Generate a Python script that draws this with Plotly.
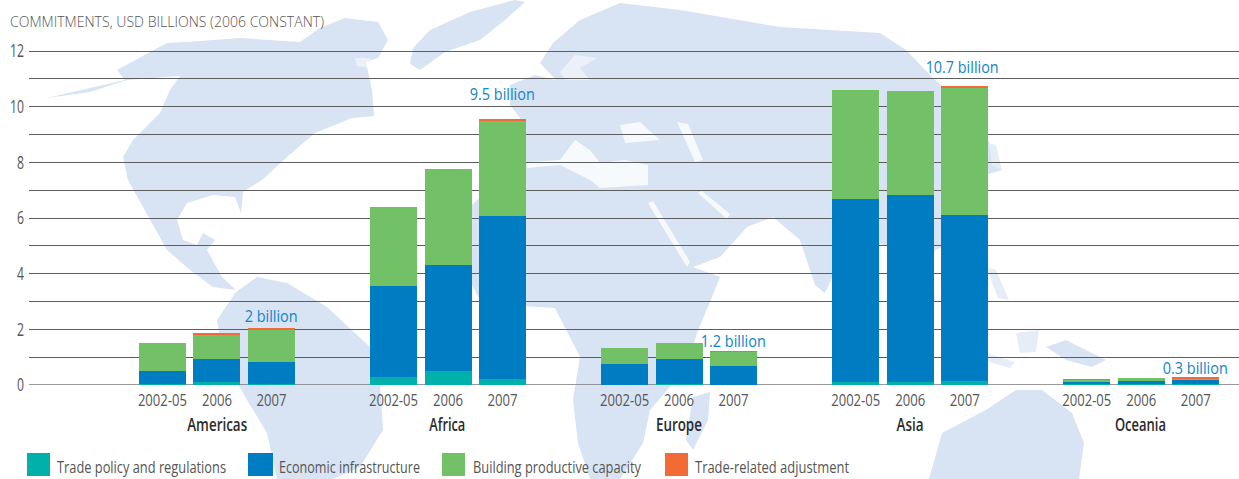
import json
import plotly.graph_objects as go

# ---------- data (segment heights, USD billions) ----------
regions = ["Americas", "Africa", "Europe", "Asia", "Oceania"]
periods = ["2002-05", "2006", "2007"]
trade_policy = [0.04, 0.11, 0.04, 0.29, 0.50, 0.22, 0.01, 0.02, 0.01, 0.11, 0.11, 0.14, 0.02, 0.02, 0.03]
economic_infra = [0.46, 0.82, 0.79, 3.27, 3.81, 5.85, 0.74, 0.91, 0.67, 6.57, 6.72, 5.97, 0.09, 0.12, 0.15]
productive_cap = [1.01, 0.90, 1.15, 2.84, 3.45, 3.42, 0.58, 0.58, 0.51, 3.92, 3.73, 4.59, 0.07, 0.11, 0.06]
trade_adjust = [0.00, 0.04, 0.06, 0.00, 0.00, 0.07, 0.00, 0.00, 0.01, 0.00, 0.00, 0.05, 0.03, 0.00, 0.04]
total_labels = ["2 billion", "9.5 billion", "1.2 billion", "10.7 billion", "0.3 billion"]
total_label_values = [2.04, 9.56, 1.2, 10.75, 0.28]
series_names = ["Trade policy and regulations", "Economic infrastructure",
                "Building productive capacity", "Trade-related adjustment"]
y_tick_labels = ["0", "", "2", "", "4", "", "6", "", "8", "", "10", "", "12"]
chart_title = "COMMITMENTS, USD BILLIONS (2006 CONSTANT)"

# ---------- style ----------
W, H = 1239, 479
L, R, T, B = 29, 1239, 47, 385
PX_PER_UNIT = 334 / 12
colors = ["#00b0aa", "#007cc3", "#73c167", "#f26a35"]
LAND = "#d8e3f3"
LAND2 = "#e6edf7"
FONT = "Open Sans, Noto Sans, sans-serif"

# the source uses a condensed face: real text, squeezed to the measured width
text_widths = {
    chart_title: 314,
    "Trade policy and regulations": 169, "Economic infrastructure": 141,
    "Building productive capacity": 168, "Trade-related adjustment": 154,
    "Americas": 60, "Africa": 36, "Europe": 46, "Asia": 27, "Oceania": 51,
    "2 billion": 53, "9.5 billion": 65, "1.2 billion": 65, "10.7 billion": 73, "0.3 billion": 65,
    "2002-05": 49, "2006": 30, "2007": 30,
    "0": 7, "2": 7, "4": 7, "6": 7, "8": 7, "10": 14, "12": 14,
}

# axis unit = one bar slot
UNIT = 54.5
GROUP_STEP = 231.1 / UNIT
FIRST_PX = 162.4
xr = [(L - FIRST_PX) / UNIT, (R - FIRST_PX) / UNIT]
x_pos = [i * GROUP_STEP + j for i in range(len(regions)) for j in range(len(periods))]


def px(x, y):
    return (x - L) / (R - L), (B - y) / (B - T)


def poly(points, color, opacity=1.0):
    parts = []
    for k, (a, b) in enumerate(points):
        u, v = px(a, b)
        parts.append(("M" if k == 0 else "L") + f"{u:.5f},{v:.5f}")
    return dict(type="path", xref="paper", yref="paper", path=" ".join(parts) + " Z",
                fillcolor=color, opacity=opacity, line=dict(width=0), layer="below")


# decorative world map silhouette (screen pixels)
north_america = [(47,98),(90,88),(125,80),(117,70),(130,63),(150,52),(167,43),(187,42),(240,38),(300,42),
    (320,28),(345,18),(378,22),(388,40),(378,58),(366,62),(372,90),(374,116),(352,118),(315,133),(287,157),
    (262,180),(243,192),(241,213),(235,197),(213,195),(187,203),(177,220),(183,240),(197,245),(203,233),
    (215,240),(207,250),(222,277),(236,290),(213,287),(190,270),(167,250),(143,207),(128,180),(123,157),
    (133,140),(160,113),(170,90),(180,76),(127,80),(90,92)]
greenland = [(410,64),(413,48),(430,30),(470,12),(515,0),(525,2),(505,20),(480,40),(445,52),(420,70)]
south_america = [(236,292),(257,277),(287,283),(327,307),(370,347),(380,383),(383,430),(360,467),(333,479),
    (277,479),(267,433),(247,400),(223,357),(217,320)]
afro_eurasia = [(553,43),(580,20),(620,3),(680,10),(780,27),(880,33),(906,50),(932,77),(970,110),(988,140),
    (1002,170),(985,175),(975,215),(960,240),(935,250),(930,265),(935,300),(925,300),(905,260),(885,245),
    (860,240),(845,250),(825,293),(815,285),(800,240),(773,217),(747,227),(720,257),(693,267),(720,277),
    (712,297),(697,333),(687,367),(650,410),(643,443),(620,479),(590,479),(578,443),(573,400),(580,357),
    (555,308),(505,305),(480,300),(468,277),(455,245),(462,215),(480,197),(500,175),(527,165),(510,150),(520,118),
    (510,105),(510,85),(535,75),(556,80),(540,63)]
australia = [(929,479),(942,433),(986,410),(1016,390),(1042,390),(1072,413),(1084,443),(1079,479)]
madagascar = [(693,397),(710,392),(708,420),(693,450),(686,440)]
new_guinea = [(1046,347),(1066,340),(1106,360),(1092,367),(1066,360)]
pale_islands = [
    [(1016,333),(1039,330),(1036,352),(1020,353)],
    [(986,267),(996,270),(1009,300),(998,298)],
    [(989,143),(996,145),(1002,170),(992,165)],
    [(960,345),(1015,362),(1010,368),(965,355)],
]
white_cuts = [
    [(527,162),(560,160),(575,140),(590,150),(600,163),(625,160),(648,165),(648,185),(600,188),(590,180),(560,165),(527,168)],
    [(620,125),(640,122),(660,140),(625,143)],
    [(677,122),(688,124),(703,160),(695,162)],
    [(648,203),(653,201),(690,262),(687,267)],
    [(698,193),(702,191),(730,214),(727,219)],
]
faint_cuts = [
    [(560,72),(575,55),(597,58),(580,68),(590,80),(565,80)],
    [(355,58),(370,58),(368,68),(357,66)],
]

shapes = [poly(p, LAND) for p in [north_america, greenland, south_america, afro_eurasia, australia, madagascar, new_guinea]]
shapes += [poly(p, LAND2) for p in pale_islands]
shapes += [poly(p, "#ffffff", 0.8) for p in white_cuts]
shapes += [poly(p, "#ffffff", 0.5) for p in faint_cuts]

# legend swatches
swatch_boxes = [(27, 50), (248, 273), (442, 465), (665, 688)]
for (x0, x1), c in zip(swatch_boxes, colors):
    shapes.append(poly([(x0, 453), (x1, 453), (x1, 476), (x0, 476)], c))

fig = go.Figure()
for name, vals, c in zip(series_names, [trade_policy, economic_infra, productive_cap, trade_adjust], colors):
    fig.add_bar(x=x_pos, y=vals, name=name, width=47 / UNIT, marker=dict(color=c, line=dict(width=0)))

annotations = []


def note(x, y, text, size, color, xanchor="left", weight=400):
    u, v = px(x, y)
    annotations.append(dict(xref="paper", yref="paper", x=u, y=v, text=text, showarrow=False,
                            xanchor=xanchor, yanchor="middle", align=xanchor,
                            font=dict(family=FONT, size=size, color=color, weight=weight)))


note(8, 22, chart_title, 14, "#555555", weight=300)
for i, r in enumerate(regions):
    note(217 + i * 230.9, 424, r, 18, "#2b2b2b", "center", 600)
for x, name in zip([55, 277, 471, 693], series_names):
    note(x, 467, name, 17, "#555555")

label_shift = [13, 25, 11, 19, 10]
label_xshift = [0, 0, 0, -3, 0]
for i, (t, v) in enumerate(zip(total_labels, total_label_values)):
    annotations.append(dict(xref="x", yref="y", x=x_pos[i * 3 + 2], y=v, text=t, showarrow=False,
                            xanchor="center", yanchor="middle",
                            yshift=label_shift[i], xshift=label_xshift[i],
                            font=dict(family=FONT, size=17, color="#1184c8", weight=500)))

fig.update_layout(
    width=W, height=H, autosize=False,
    margin=dict(l=L, r=W - R, t=T, b=H - B, pad=0),
    barmode="stack", bargap=0, showlegend=False,
    paper_bgcolor="white", plot_bgcolor="rgba(0,0,0,0)",
    shapes=shapes, annotations=annotations,
    xaxis=dict(range=xr, tickmode="array", tickvals=x_pos, ticktext=periods * len(regions),
               showgrid=False, zeroline=False, showline=False, ticks="",
               ticklabelstandoff=3, tickfont=dict(family=FONT, size=17, color="#555555")),
    yaxis=dict(range=[0, (B - T) / PX_PER_UNIT], tickmode="array", tickvals=list(range(13)),
               ticktext=y_tick_labels, showgrid=True, gridcolor="#5e5e5e", gridwidth=1.25,
               zeroline=False, showline=False, ticks="",
               ticklabelstandoff=4, tickfont=dict(family=FONT, size=18, color="#555555")),
)
fig.add_hline(y=0, line=dict(color="#777777", width=1.5), layer="below")

squeeze = """
var W = %s;
document.body.style.margin = '0';
document.body.style.overflow = 'hidden';
document.querySelectorAll('.annotation-text, .xtick text, .ytick text').forEach(function (t) {
  var w = W[t.textContent.trim()];
  if (w) { t.setAttribute('textLength', w); t.setAttribute('lengthAdjust', 'spacingAndGlyphs'); }
});
""" % json.dumps(text_widths)
fig.write_html("out.html", post_script=squeeze, config={"displayModeBar": False})
